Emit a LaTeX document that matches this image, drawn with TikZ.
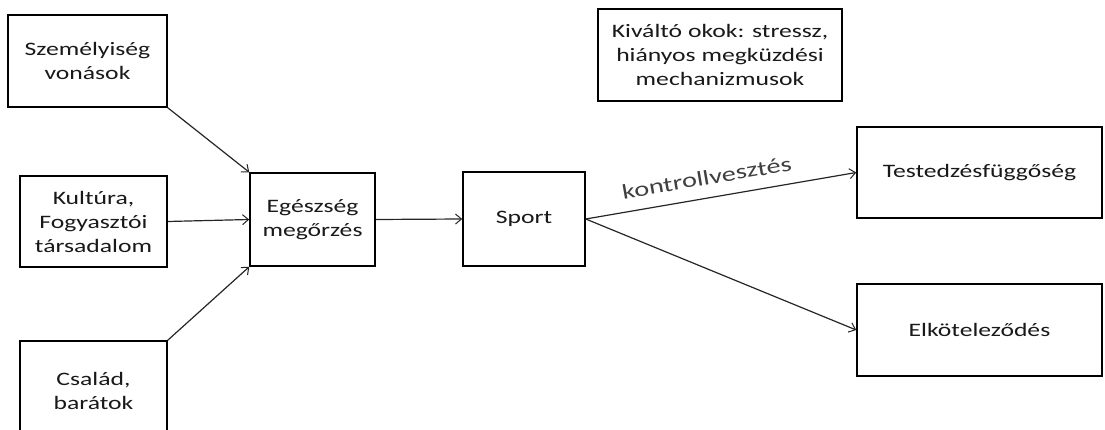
\documentclass[tikz,border=0pt]{standalone}
\usepackage{fontspec}
\setmainfont{Carlito}[FakeStretch=1.35]
\usetikzlibrary{arrows.meta}
\tikzset{
  box/.style={draw=black, line width=1.5pt, inner sep=0pt, align=center,
    font=\fontsize{19}{24}\selectfont, text=black!90},
  conn/.style={draw=black!85, line width=1.2pt, -{Straight Barb[length=6pt,width=10pt,line width=1pt]}},
  lbl/.style={font=\fontsize{21}{24}\selectfont, text=black!75}
}
\begin{document}
\begin{tikzpicture}[x=1pt,y=-1pt]
\clip (0,0) rectangle (1105,430);
\fill[white] (0,0) rectangle (1105,430);
\node[box, minimum width=159pt, minimum height=92pt] (szem) at (87.5,61) {Személyiség\\vonások};
\node[box, minimum width=147pt, minimum height=91pt] (kult) at (93.5,221.5) {Kultúra,\\Fogyasztói\\társadalom};
\node[box, minimum width=147pt, minimum height=100pt] (csal) at (93.5,391) {Család,\\barátok};
\node[box, minimum width=125pt, minimum height=93pt] (egesz) at (312.5,219.5) {Egészség\\megőrzés};
\node[box, minimum width=122pt, minimum height=94pt] (sport) at (524,219) {Sport};
\node[box, minimum width=244pt, minimum height=92pt] (kival) at (720,55) {Kiváltó okok: stressz,\\hiányos megküzdési\\mechanizmusok};
\node[box, minimum width=245pt, minimum height=91pt] (test) at (979.5,172.5) {Testedzésfüggőség};
\node[box, minimum width=245pt, minimum height=92pt] (elk) at (979.5,330) {Elköteleződés};
\draw[conn] (szem.south east) -- (egesz.north west);
\draw[conn] (kult.east) -- (egesz.west);
\draw[conn] (csal.north east) -- (egesz.south west);
\draw[conn] (egesz.east) -- (sport.west);
\draw[conn] (sport.east) -- node[lbl, pos=0.46, sloped, above, yshift=9pt] (kv) {kontrollvesztés} (test.west);
\draw[conn] (sport.east) -- (elk.west);
\end{tikzpicture}
\end{document}
